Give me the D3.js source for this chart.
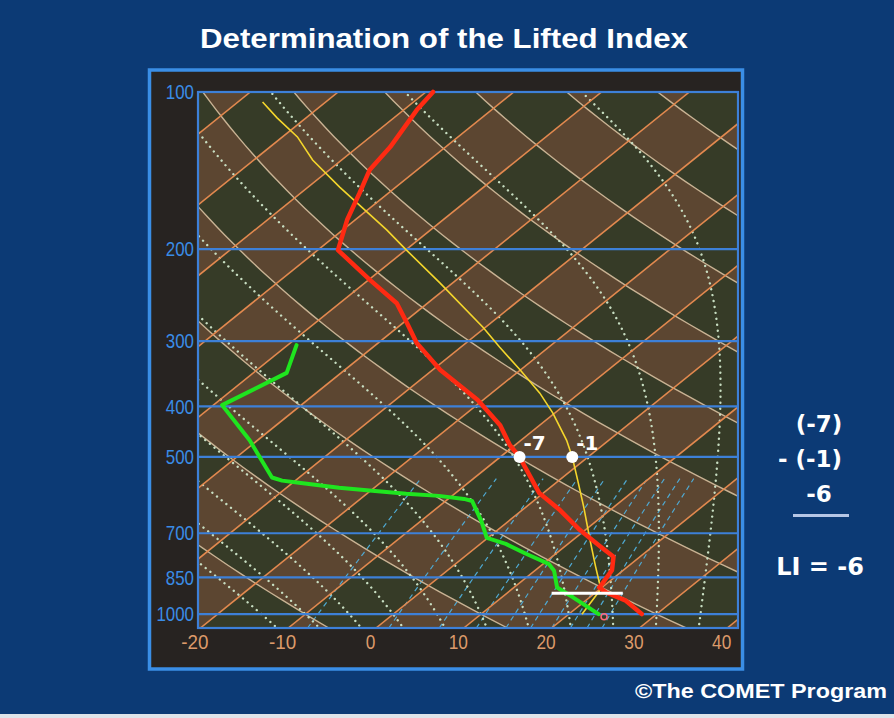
<!DOCTYPE html>
<html><head><meta charset="utf-8">
<script src="https://cdn.jsdelivr.net/npm/d3@7"></script>
<style>html,body{margin:0;padding:0;background:#0c3a75;} svg{display:block}</style>
</head><body>
<svg id="c" width="894" height="718"></svg>
<script>
// ---------------- data ----------------
const pressureTicks = [100, 200, 300, 400, 500, 700, 850, 1000];
const tempTicks = [-20, -10, 0, 10, 20, 30, 40];
const isotherms = [-130, -120, -110, -100, -90, -80, -70, -60, -50, -40, -30, -20, -10, 0, 10, 20, 30, 40, 50];
const dryAdiabats = [-50, -30, -10, 10, 30, 50, 70, 90, 110, 130, 150, 170, 190, 210];
const moistAdiabats = [-15, -10, -5, 0, 5, 10, 15, 20, 25, 30, 35, 40];
const mixingRatios = [2, 4, 6, 8, 10, 12, 14, 16, 18, 20];

// environmental temperature (red)
const tempP = [100, 108.3, 127.5, 141.1, 156.1, 175.9, 200.8, 229.2, 253.8, 277.2, 302.6, 340.8, 389.1, 434.6, 474.4, 500, 587, 632, 690.2, 742.6, 776.6, 823.4, 873.3, 888.9, 908.9, 942.4, 999.6];
const tempT = [-69.2, -68.5, -66.3, -65.4, -63.3, -60.9, -57.7, -49.8, -43.5, -39.5, -35.6, -29.1, -20.6, -14.5, -10.6, -7.8, -0.4, 4.3, 9.4, 14.1, 17.0, 18.7, 19.5, 19.7, 21.2, 24.6, 28.3];
// dew point (green)
const dewP = [305.3, 345.1, 397.8, 464.5, 547.4, 555, 560, 572.9, 580.5, 588.3, 593.6, 601.6, 607, 663.3, 714.6, 733.4, 766.3, 800.9, 825.9, 889, 928.4, 1000];
const dewT = [-49.0, -46.2, -49.0, -40.9, -33.1, -31.5, -29.3, -24.0, -19.8, -15.5, -11.5, -8.2, -7.0, -3.1, -0.1, 2.9, 6.6, 10.6, 12.2, 14.9, 18.1, 23.4];
// lifted parcel (yellow)
const parcelP = [104.5, 112.1, 121.9, 135, 152.1, 183.7, 200.8, 232.3, 282.1, 308, 340.8, 377.4, 412.1, 464.5, 500, 552.5, 622.2, 720.2, 810, 894.9, 1000];
const parcelT = [-87.2, -83.3, -78.3, -73.3, -66.4, -55.0, -49.9, -41.4, -30.3, -25.6, -20.0, -14.5, -10.2, -4.8, -1.8, 2.0, 6.5, 11.9, 16.3, 20.1, 21.5];

const liLevel = 500;
const liLabels = ["-7", "-1"];
const lclPressure = 912;
const lclBarT = [15.1, 23.2];
const surfaceMarker = {p: 1012, T: 24.4};
const mathLines = ["(-7)", "- (-1)", "-6"];
const liText = "LI = -6";

// ---------------- scales ----------------
const svg = d3.select("#c");
const L = 198, R = 738, TOP = 92, BOT = 628, SKEW = 1.24;
const y = d3.scaleLog().domain([100, 1063]).range([TOP, BOT]);
const xT = d3.scaleLinear().domain([-20.27, 41.23]).range([L, R]);
const X = (T, p) => xT(T) + SKEW * (BOT - y(p));
const pLevels = d3.range(0, 61).map(i => Math.exp(Math.log(1063) + (Math.log(100) - Math.log(1063)) * i / 60));
const dryT = (th, p) => (th + 273.15) * Math.pow(p / 1000, 0.2857) - 273.15;

// background
svg.append("rect").attr("width", 894).attr("height", 718).attr("fill", "#0c3a75");
svg.append("rect").attr("x", 0).attr("y", 714).attr("width", 894).attr("height", 4).attr("fill", "#dfe4ea");
svg.append("rect").attr("x", 149.5).attr("y", 70).attr("width", 593).attr("height", 599)
  .attr("fill", "#272321").attr("stroke", "#3a8ee6").attr("stroke-width", 3.5);

const defs = svg.append("defs");
defs.append("clipPath").attr("id", "plotclip").append("rect")
  .attr("x", L).attr("y", TOP).attr("width", R - L).attr("height", BOT - TOP);

const brown = "#5c4631", green = "#363b27";
const par = n => ((n % 2) + 2) % 2;
const bandPoly = T => [[X(T, 1063), BOT], [X(T, 100), TOP], [X(T + 10, 100), TOP], [X(T + 10, 1063), BOT]];
const polyPath = pts => "M" + pts.map(d => d.join(",")).join("L") + "Z";

const g = svg.append("g").attr("clip-path", "url(#plotclip)");
// isotherm bands
g.selectAll("path.band").data(isotherms).join("path")
  .attr("d", T => polyPath(bandPoly(T)))
  .attr("fill", T => par(Math.floor(T / 10)) ? green : brown);
// theta-band clip (odd bands)
const thClip = defs.append("clipPath").attr("id", "thclip");
thClip.selectAll("path").data(dryAdiabats.filter(th => par(Math.floor((th + 10) / 20)) === 1)).join("path")
  .attr("d", th => {
    const a = pLevels.map(p => [X(dryT(th, p), p), y(p)]);
    const b = pLevels.slice().reverse().map(p => [X(dryT(th + 20, p), p), y(p)]);
    return polyPath(a.concat(b));
  });
g.append("g").attr("clip-path", "url(#thclip)")
  .selectAll("path").data(isotherms).join("path")
  .attr("d", T => polyPath(bandPoly(T)))
  .attr("fill", T => par(Math.floor(T / 10)) ? brown : green);

const line = d3.line();
// mixing ratio lines
const mrTop = 550;
const mrLevels = d3.range(0, 21).map(i => Math.exp(Math.log(1063) + (Math.log(mrTop) - Math.log(1063)) * i / 20));
const tdFromW = (w, p) => { const es = w * p / (622 + w); const a = Math.log(es / 6.112); return 243.5 * a / (17.67 - a); };
g.selectAll("path.mr").data(mixingRatios).join("path")
  .attr("d", w => line(mrLevels.map(p => [X(tdFromW(w, p), p), y(p)])))
  .attr("fill", "none").attr("stroke", "#4fa9d2").attr("stroke-width", 1.2).attr("stroke-dasharray", "5,4");
// dry adiabats
g.selectAll("path.dry").data(dryAdiabats).join("path")
  .attr("d", th => line(pLevels.map(p => [X(dryT(th, p), p), y(p)])))
  .attr("fill", "none").attr("stroke", "#c9b394").attr("stroke-width", 1.4);
// moist adiabats
const Rd = 287.04, cp = 1005.7, Lv = 2.501e6, eps = 0.622;
function dTdlnp(T, lp) {
  const p = Math.exp(lp), Tc = T - 273.15;
  const es = 6.112 * Math.exp(17.67 * Tc / (Tc + 243.5));
  const rs = eps * es / (p - es);
  return (Rd * T + Lv * rs) / (cp + Lv * Lv * rs * eps / (Rd * T * T));
}
function moist(thw) {
  const integrate = (lpEnd, h) => {
    let T = thw + 273.15, lp = Math.log(1000); const out = [[1000, T - 273.15]];
    while ((h < 0 && lp > lpEnd) || (h > 0 && lp < lpEnd)) {
      const k1 = dTdlnp(T, lp), k2 = dTdlnp(T + 0.5 * h * k1, lp + 0.5 * h);
      T += h * k2; lp += h; out.push([Math.exp(lp), T - 273.15]);
    }
    return out;
  };
  const up = integrate(Math.log(100), -0.01);
  const down = integrate(Math.log(1063), 0.01);
  return down.reverse().concat(up.slice(1));
}
g.selectAll("path.moist").data(moistAdiabats).join("path")
  .attr("d", thw => line(moist(thw).map(d => [X(d[1], d[0]), y(d[0])])))
  .attr("fill", "none").attr("stroke", "#c8dec2").attr("stroke-width", 2.4)
  .attr("stroke-linecap", "round").attr("stroke-dasharray", "0.01,6");
// isotherms
g.selectAll("path.iso").data(isotherms).join("path")
  .attr("d", T => line([[X(T, 1063), BOT], [X(T, 100), TOP]]))
  .attr("fill", "none").attr("stroke", "#e2894f").attr("stroke-width", 1.6);
// pressure lines
g.selectAll("line.pl").data(pressureTicks).join("line")
  .attr("x1", L).attr("x2", R).attr("y1", p => y(p)).attr("y2", p => y(p))
  .attr("stroke", "#3d80d8").attr("stroke-width", 2.2);
svg.append("rect").attr("x", L).attr("y", TOP).attr("width", R - L).attr("height", BOT - TOP)
  .attr("fill", "none").attr("stroke", "#3d80d8").attr("stroke-width", 2.2);

// axes
const ya = svg.append("g").attr("transform", `translate(${L},0)`)
  .call(d3.axisLeft(y).tickValues(pressureTicks).tickFormat(d => String(d)).tickSize(0).tickPadding(4));
ya.select(".domain").remove();
ya.selectAll("text").attr("fill", "#3a8ce6").style("font-family", "Liberation Sans, Arial, sans-serif").style("font-size", "21px")
  .attr("textLength", d => String(d).length * 9.4).attr("lengthAdjust", "spacingAndGlyphs");
const xa = svg.append("g").attr("transform", `translate(-6,${BOT})`)
  .call(d3.axisBottom(xT).tickValues(tempTicks).tickFormat(d => String(d)).tickSize(0).tickPadding(6));
xa.select(".domain").remove();
xa.selectAll("text").attr("fill", "#dc9a6a").style("font-family", "Liberation Sans, Arial, sans-serif").style("font-size", "21px")
  .attr("textLength", d => String(Math.abs(d)).length * 9.6 + (d < 0 ? 8 : 0)).attr("lengthAdjust", "spacingAndGlyphs");

// profiles
const prof = (P, T) => line(P.map((p, i) => [X(T[i], p), y(p)]));
svg.append("path").attr("d", prof(parcelP, parcelT)).attr("fill", "none").attr("stroke", "#f4d62c").attr("stroke-width", 1.6);
svg.append("path").attr("d", prof(dewP, dewT)).attr("fill", "none").attr("stroke", "#1fe51f").attr("stroke-width", 4)
  .attr("stroke-linejoin", "round").attr("stroke-linecap", "round");
svg.append("path").attr("d", prof(tempP, tempT)).attr("fill", "none").attr("stroke", "#ff2a12").attr("stroke-width", 4.5)
  .attr("stroke-linejoin", "round").attr("stroke-linecap", "round");

// LCL bar
svg.append("line").attr("x1", X(lclBarT[0], lclPressure)).attr("x2", X(lclBarT[1], lclPressure))
  .attr("y1", y(lclPressure)).attr("y2", y(lclPressure)).attr("stroke", "#ffffff").attr("stroke-width", 3);
svg.append("circle").attr("cx", X(surfaceMarker.T, surfaceMarker.p)).attr("cy", y(surfaceMarker.p)).attr("r", 3)
  .attr("fill", "none").attr("stroke", "#ff6a7a").attr("stroke-width", 1.5);

// 500 hPa dots
const interpT = (P, T, p) => {
  for (let i = 0; i < P.length - 1; i++) if (p >= P[i] && p <= P[i + 1]) {
    const f = (Math.log(p) - Math.log(P[i])) / (Math.log(P[i + 1]) - Math.log(P[i])); return T[i] + f * (T[i + 1] - T[i]);
  }
  return T[T.length - 1];
};
const dots = [interpT(tempP, tempT, liLevel), interpT(parcelP, parcelT, liLevel)];
svg.selectAll("circle.dot").data(dots).join("circle")
  .attr("cx", t => X(t, liLevel)).attr("cy", y(liLevel)).attr("r", 6).attr("fill", "#ffffff");
svg.selectAll("text.dl").data(dots).join("text")
  .attr("x", t => X(t, liLevel) + 4).attr("y", y(liLevel) - 7).text((t, i) => liLabels[i])
  .attr("fill", "#ffffff").style("font-family", "DejaVu Sans, sans-serif").style("font-weight", "bold").style("font-size", "20px");

// texts
svg.append("text").attr("x", 444).attr("y", 48).attr("text-anchor", "middle").text("Determination of the Lifted Index")
  .attr("fill", "#ffffff").style("font-family", "Liberation Sans, Arial, sans-serif").style("font-weight", "bold").style("font-size", "28px")
  .attr("textLength", 488).attr("lengthAdjust", "spacingAndGlyphs");
const mathX = [819, 810, 819], mathY = [432, 467, 502];
svg.selectAll("text.m").data(mathLines).join("text")
  .attr("x", (d, i) => mathX[i]).attr("y", (d, i) => mathY[i]).attr("text-anchor", "middle").text(d => d)
  .attr("fill", "#ffffff").style("font-family", "DejaVu Sans, sans-serif").style("font-weight", "bold").style("font-size", "23px");
svg.append("line").attr("x1", 793).attr("x2", 849).attr("y1", 515.5).attr("y2", 515.5).attr("stroke", "#b6c6e6").attr("stroke-width", 3);
svg.append("text").attr("x", 820).attr("y", 575).attr("text-anchor", "middle").text(liText)
  .attr("fill", "#ffffff").style("font-family", "DejaVu Sans, sans-serif").style("font-weight", "bold").style("font-size", "24px");
svg.append("text").attr("x", 887).attr("y", 698).attr("text-anchor", "end").text("©The COMET Program")
  .attr("fill", "#ffffff").style("font-family", "Liberation Sans, Arial, sans-serif").style("font-weight", "bold").style("font-size", "21px")
  .attr("textLength", 252).attr("lengthAdjust", "spacingAndGlyphs");
</script>
</body></html>
